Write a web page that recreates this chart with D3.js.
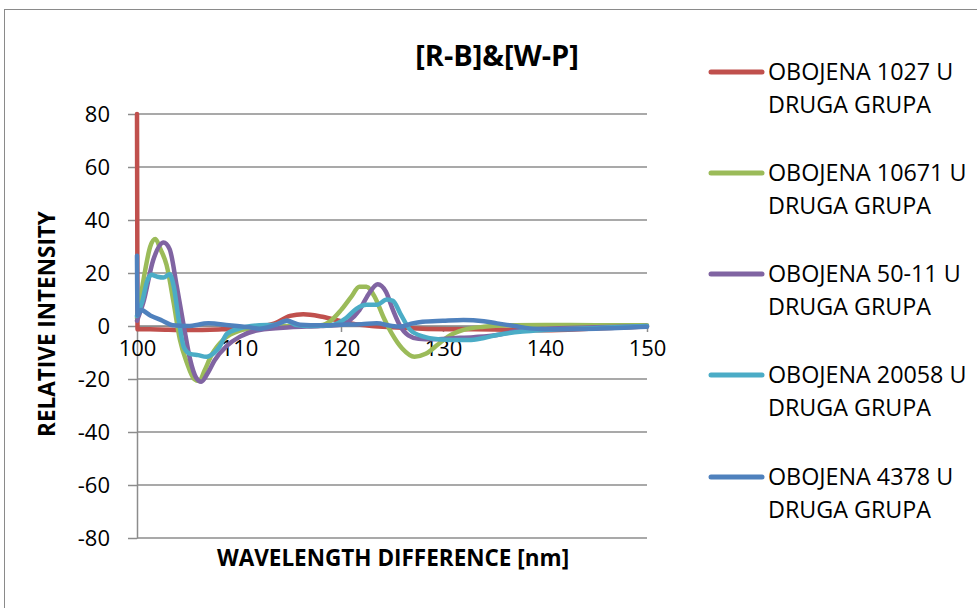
<!DOCTYPE html>
<html>
<head>
<meta charset="utf-8">
<script src="https://cdn.jsdelivr.net/npm/d3@7"></script>
<style>
body { margin: 0; background: #fff; }
svg { display: block; font-family: "Open Sans", sans-serif; }
</style>
</head>
<body>
<svg id="chart" width="977" height="608"></svg>
<script>
// values, [wavelength difference, relative intensity]
var seriesNames = ["OBOJENA 1027 U", "OBOJENA 10671 U", "OBOJENA 50-11 U", "OBOJENA 20058 U", "OBOJENA 4378 U"];
var seriesColors = ["#C0504D", "#9BBB59", "#8064A2", "#4BACC6", "#4F81BD"];

var red = [[100,80],[100.05,-1.2],[102,-1.3],[105,-1.5],[108,-1.3],[110,-1],[112,-0.3],[113.5,1],[115,3.8],[116.3,4.4],[118,3.6],[119.5,2.3],[121,1],[123,0],[125,-0.5],[128,-1],[131,-1.2],[135,-1.3],[140,-1.6],[145,-0.9],[150,-0.2]];
var green = [[100,3],[100.4,12],[100.8,21],[101.3,30],[101.8,32.8],[102.3,29],[102.9,23],[103.6,8.6],[104.2,-5],[104.9,-14],[105.6,-20],[106.1,-20.8],[106.6,-17],[107.3,-11],[108.5,-5],[110,-1.8],[112,-0.5],[115,0],[118,0.3],[119,2],[120,6],[121,11],[121.8,14.8],[122.5,14.8],[123.3,11],[124.2,3],[125,-3],[126,-8.5],[127.2,-11.6],[128.3,-10.5],[129.5,-7],[130.5,-4],[132,-1.5],[134,-0.3],[137,0.3],[140,0.4],[145,0.3],[150,0.3]];
var purple = [[100,2],[100.6,8.6],[101.6,25],[102.6,31.5],[103.2,29],[103.9,15],[104.6,-0.3],[105.2,-12.5],[105.8,-19.5],[106.3,-21],[106.9,-18],[107.6,-13],[108.8,-7.5],[110.1,-4],[112,-1.5],[115,-0.5],[118,0],[120,0.5],[120.8,2],[121.8,6],[122.7,12],[123.6,15.8],[124.4,13],[125.1,6],[125.8,0],[126.6,-3.5],[127.6,-4.8],[129,-5],[131,-4.6],[133,-4.2],[135.3,-3.4],[137,-2],[140,-1],[145,-0.5],[150,0]];
var cyan = [[100,3.8],[100.5,9],[101,17],[101.4,19.3],[102,18.6],[102.6,18.3],[103.2,19.5],[103.6,15],[104.1,2],[104.6,-8],[105.2,-10.5],[106,-11],[106.8,-11.6],[107.6,-10],[108.1,-7.8],[108.8,-3],[110,-1],[112,0.3],[113.5,0.5],[114.7,2],[115.5,0.5],[117,0],[119,0.3],[120.5,3],[121.5,6.5],[122.5,8],[123.5,8],[124.5,10],[125.1,9.5],[125.8,4.8],[126.8,-1.5],[128.1,-4],[129.5,-5],[131,-5.3],[132.5,-5.3],[134,-4.5],[135.3,-3.4],[137.8,-2.1],[140,-1.5],[145,-0.8],[150,0]];
var blue = [[100,26.5],[100.05,4],[100.4,6],[101.3,4],[102.5,2],[103.5,0.3],[105,0],[107,1],[109,0.3],[111,-0.5],[112,-1],[113.5,0.3],[114.7,2],[116,0.5],[118,0.3],[120,0.5],[122,0.7],[123.5,1],[125,0],[125.8,-0.2],[127,1],[128,1.6],[130,2],[132,2.3],[134,1.8],[135.3,1],[137,0],[138.5,-0.9],[140,-1.2],[145,-1],[150,-0.3]];
var seriesData = [red, green, purple, cyan, blue];

var xTicks = [100, 110, 120, 130, 140, 150];
var yTicks = [80, 60, 40, 20, 0, -20, -40, -60, -80];

var svg = d3.select("#chart");

// outer chart frame
svg.append("rect")
	.attr("x", 4.5).attr("y", 9.5)
	.attr("width", 990).attr("height", 620)
	.attr("fill", "none").attr("stroke", "#8a8a8a").attr("stroke-width", 1);

var plotLeft = 137, plotRight = 647, plotTop = 114, plotBottom = 538;

var x = d3.scaleLinear().domain([100, 150]).range([plotLeft, plotRight]);
var y = d3.scaleLinear().domain([-80, 80]).range([plotBottom, plotTop]);

var gridColor = "#8c8c8c";
var plainNum = function(d) { return String(d); }; // hyphen minus like the original

// horizontal gridlines
svg.append("g").selectAll("line")
	.data(yTicks)
	.enter().append("line")
	.attr("x1", plotLeft).attr("x2", plotRight)
	.attr("y1", function(d) { return y(d); })
	.attr("y2", function(d) { return y(d); })
	.attr("stroke", gridColor).attr("stroke-width", 1.5);

// y axis
var yax = svg.append("g")
	.attr("transform", "translate(" + plotLeft + ",0)")
	.call(d3.axisLeft(y).tickValues(yTicks).tickFormat(plainNum).tickSize(9).tickPadding(18).tickSizeOuter(0));
yax.select(".domain").attr("stroke", gridColor).attr("stroke-width", 1.5);
yax.selectAll(".tick line").attr("stroke", gridColor).attr("stroke-width", 1.5);
yax.selectAll(".tick text")
	.attr("font-family", "Open Sans")
	.attr("font-size", "22px").attr("fill", "#000")
	.attr("dy", "0.36em");

// x axis crosses at zero
var xax = svg.append("g")
	.attr("transform", "translate(0," + y(0) + ")")
	.call(d3.axisBottom(x).tickValues(xTicks).tickFormat(plainNum).tickSize(6).tickPadding(8).tickSizeOuter(0));
xax.select(".domain").attr("stroke", gridColor).attr("stroke-width", 1.5);
xax.selectAll(".tick line").attr("stroke", gridColor).attr("stroke-width", 1.5);
xax.selectAll(".tick text")
	.attr("font-family", "Open Sans")
	.attr("font-size", "22px").attr("fill", "#000");

// series lines
var line = d3.line()
	.x(function(d) { return x(d[0]); })
	.y(function(d) { return y(d[1]); })
	.curve(d3.curveMonotoneX);

svg.append("g").selectAll("path")
	.data(seriesData)
	.enter().append("path")
	.attr("d", line)
	.attr("fill", "none")
	.attr("stroke", function(d, i) { return seriesColors[i]; })
	.attr("stroke-width", 4.5)
	.attr("stroke-linejoin", "round")
	.attr("stroke-linecap", "round");

// title
svg.append("text")
	.attr("x", 497).attr("y", 66)
	.attr("text-anchor", "middle")
	.attr("font-size", "29px").attr("font-weight", "bold")
	.text("[R-B]&[W-P]");

// axis titles
svg.append("text")
	.attr("x", 393).attr("y", 566)
	.attr("text-anchor", "middle")
	.attr("font-size", "22.5px").attr("font-weight", "bold")
	.text("WAVELENGTH DIFFERENCE [nm]");

svg.append("text")
	.attr("transform", "translate(55,324) rotate(-90)")
	.attr("text-anchor", "middle")
	.attr("font-size", "22.5px").attr("font-weight", "bold")
	.text("RELATIVE INTENSITY");

// legend
var legendY = [72, 173, 274, 375, 477];
var legend = svg.append("g").selectAll("g")
	.data(seriesNames)
	.enter().append("g")
	.attr("transform", function(d, i) { return "translate(0," + legendY[i] + ")"; });

legend.append("line")
	.attr("x1", 711).attr("x2", 762)
	.attr("y1", 0).attr("y2", 0)
	.attr("stroke", function(d, i) { return seriesColors[i]; })
	.attr("stroke-width", 5)
	.attr("stroke-linecap", "round");

legend.append("text")
	.attr("x", 768).attr("y", 8)
	.attr("font-size", "23.3px")
	.text(function(d) { return d; });

legend.append("text")
	.attr("x", 768).attr("y", 41)
	.attr("font-size", "23.3px")
	.text("DRUGA GRUPA");
</script>
</body>
</html>
